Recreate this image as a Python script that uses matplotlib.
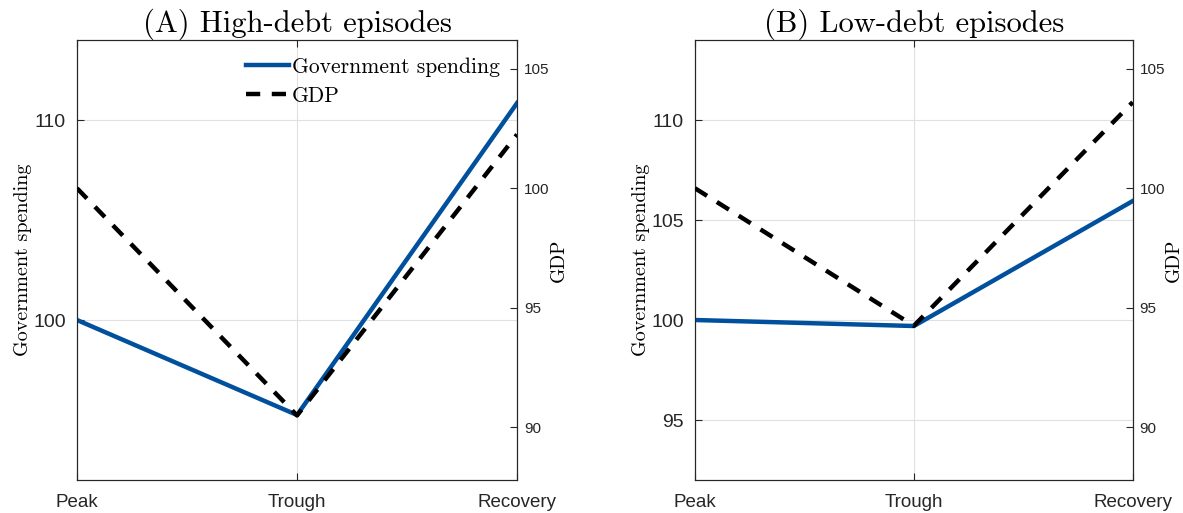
import matplotlib
matplotlib.use('Agg')
import matplotlib.pyplot as plt

# data
phases = ['Peak', 'Trough', 'Recovery']
titles = ['(A) High-debt episodes', '(B) Low-debt episodes']
gov_high = [100.0, 95.25, 110.85]
gdp_high = [100.0, 90.5, 102.25]
gov_low = [100.0, 99.7, 105.95]
gdp_low = [100.0, 94.25, 103.6]
gov_ticks = [[100, 110], [95, 100, 105, 110]]
gdp_ticks = [90, 95, 100, 105]

blue = '#00509e'
serif = 'cmr10'
sans = 'Liberation Sans'
dark = '#262626'

plt.rcParams['axes.formatter.use_mathtext'] = True

fig = plt.figure(figsize=(11.83, 5.13), dpi=100)
boxes = [[0.0651, 0.0643, 0.372, 0.8577], [0.5875, 0.0643, 0.370, 0.8577]]
series = [(gov_high, gdp_high), (gov_low, gdp_low)]

for i, (gov, gdp) in enumerate(series):
    ax = fig.add_axes(boxes[i])
    x = range(len(phases))
    ax.plot(x, gov, color=blue, lw=3.2, zorder=3, label='Government spending')
    ax.set_xlim(0, 2)
    ax.set_ylim(92, 114)
    ax.set_xticks(list(x))
    ax.set_xticklabels(phases, fontfamily=sans, fontsize=13.5, color=dark)
    ax.set_yticks(gov_ticks[i])
    ax.set_yticklabels([str(t) for t in gov_ticks[i]], fontfamily=sans, fontsize=14, color=dark)
    ax.tick_params(direction='in', length=5, top=True, right=False, pad=8, color=dark)
    ax.tick_params(axis='x', pad=10)
    ax.grid(True, color='#e0e0e0', lw=0.8)
    ax.set_axisbelow(True)
    ax.set_ylabel('Government spending', fontfamily=serif, fontsize=14.5, labelpad=1)
    ax.set_title(titles[i], fontfamily=serif, fontsize=22, pad=6)
    for s in ax.spines.values():
        s.set_color(dark)
        s.set_linewidth(0.8)

    ax2 = ax.twinx()
    ax2.plot(x, gdp, color='black', lw=3.2, ls=(0, (3.2, 2.6)), zorder=3, label='GDP')
    ax2.set_ylim(87.8, 106.2)
    ax2.set_yticks(gdp_ticks)
    ax2.set_yticklabels([str(t) for t in gdp_ticks], fontfamily=sans, fontsize=11, color=dark)
    ax2.tick_params(direction='in', length=5, pad=5, color=dark)
    ax2.set_ylabel('GDP', fontfamily=serif, fontsize=14, labelpad=0)
    for s in ax2.spines.values():
        s.set_color(dark)
        s.set_linewidth(0.8)

    if i == 0:
        h1, l1 = ax.get_legend_handles_labels()
        h2, l2 = ax2.get_legend_handles_labels()
        ax2.legend(h1 + h2, l1 + l2, loc='upper right', frameon=False,
                   prop={'family': serif, 'size': 15.5}, handlelength=2.0,
                   handletextpad=0.15, borderaxespad=0.4, labelspacing=0.45)

fig.savefig('out.png', dpi=100)
